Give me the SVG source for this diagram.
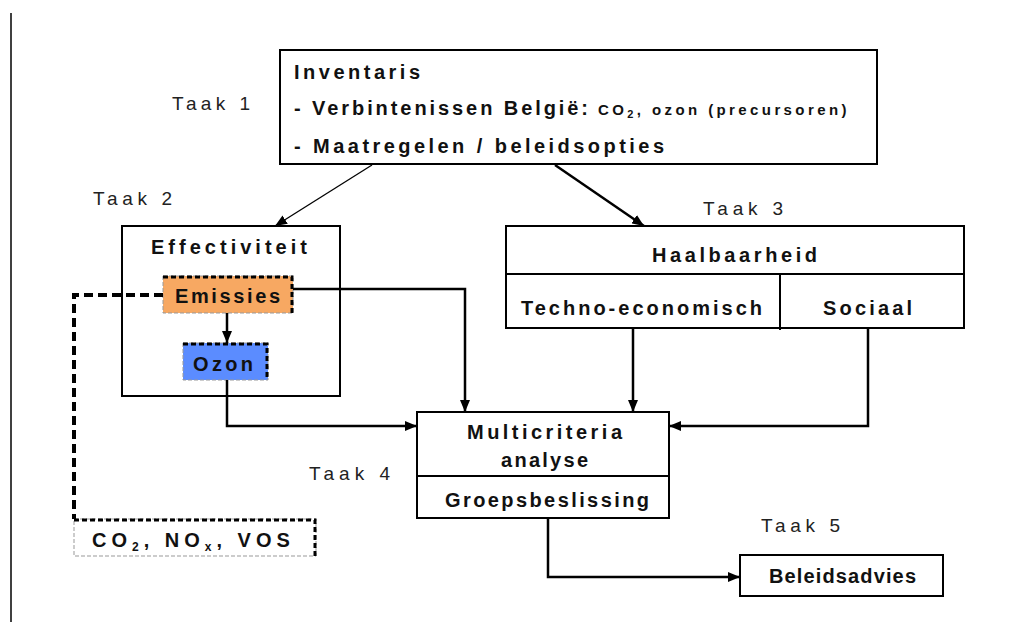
<svg xmlns="http://www.w3.org/2000/svg" width="1036" height="624" viewBox="0 0 1036 624">
<style>
.b{font-family:"Liberation Sans",Arial,sans-serif;font-weight:bold;font-size:20px;fill:#111}
.s{font-family:"Liberation Sans",Arial,sans-serif;font-weight:bold;font-size:15px;fill:#111}
.t{font-family:"Liberation Sans",Arial,sans-serif;font-size:19px;fill:#222}
.box{fill:#fff;stroke:#000;stroke-width:2}
.ln{fill:none;stroke:#000;stroke-width:2.5}
.thin{fill:none;stroke:#000;stroke-width:1.3}
.dsh{fill:none;stroke:#000;stroke-width:4;stroke-dasharray:9 5}
.shade{stroke:#999;stroke-width:1;stroke-dasharray:4 2}
.dot{fill:none;stroke:#000;stroke-width:3;stroke-dasharray:5 3}
</style>
<defs>
<marker id="ah" markerUnits="userSpaceOnUse" markerWidth="12" markerHeight="10" refX="12" refY="5" orient="auto">
<path d="M0,0 L12,5 L0,10 z" fill="#000"/>
</marker>
</defs>
<rect width="1036" height="624" fill="#fff"/>
<line x1="11" y1="13" x2="11" y2="622" stroke="#000" stroke-width="1.5"/>

<g id="labels">
<text class="t" x="172" y="110" textLength="78" lengthAdjust="spacing">Taak 1</text>
<text class="t" x="93" y="205" textLength="79" lengthAdjust="spacing">Taak 2</text>
<text class="t" x="703" y="215" textLength="80" lengthAdjust="spacing">Taak 3</text>
<text class="t" x="309" y="480" textLength="81" lengthAdjust="spacing">Taak 4</text>
<text class="t" x="761" y="532" textLength="79" lengthAdjust="spacing">Taak 5</text>
</g>

<g id="inventaris">
<rect class="box" x="280" y="50" width="597" height="114"/>
<text class="b" x="294" y="79" textLength="126" lengthAdjust="spacing">Inventaris</text>
<text class="b" x="294" y="115" textLength="294" lengthAdjust="spacing">- Verbintenissen België:</text>
<text class="s" x="598" y="115" letter-spacing="3.4">CO<tspan font-size="11" dy="3">2</tspan><tspan dy="-3">, ozon (precursoren)</tspan></text>
<text class="b" x="294" y="153" textLength="370" lengthAdjust="spacing">- Maatregelen / beleidsopties</text>
</g>

<g id="effectiviteit">
<rect class="box" x="122" y="226" width="218" height="170"/>
<text class="b" x="151" y="254" textLength="156" lengthAdjust="spacing">Effectiviteit</text>
</g>

<g id="emissies">
<rect x="163" y="276" width="130" height="37" fill="#F7A862" class="shade"/>
<polyline class="dot" points="163,277 292,277 292,313"/>
<text class="b" x="175" y="303" textLength="105" lengthAdjust="spacing">Emissies</text>
</g>

<g id="ozon">
<rect x="183" y="343" width="85" height="37" fill="#5B8CFF" class="shade"/>
<polyline class="dot" points="183,344 267,344 267,380"/>
<text class="b" x="193" y="371" textLength="60" lengthAdjust="spacing">Ozon</text>
</g>

<g id="haalbaarheid">
<rect class="box" x="506" y="226" width="458" height="102"/>
<line x1="506" y1="274" x2="964" y2="274" stroke="#000" stroke-width="2"/>
<line x1="780" y1="274" x2="780" y2="330" stroke="#000" stroke-width="2"/>
<text class="b" x="652" y="262" textLength="165" lengthAdjust="spacing">Haalbaarheid</text>
<text class="b" x="521" y="315" textLength="241" lengthAdjust="spacing">Techno-economisch</text>
<text class="b" x="823" y="315" textLength="89" lengthAdjust="spacing">Sociaal</text>
</g>

<g id="multicriteria">
<rect class="box" x="417" y="412" width="252" height="106"/>
<line x1="417" y1="476" x2="669" y2="476" stroke="#000" stroke-width="2"/>
<text class="b" x="467" y="439" textLength="155" lengthAdjust="spacing">Multicriteria</text>
<text class="b" x="501" y="467" textLength="87" lengthAdjust="spacing">analyse</text>
<text class="b" x="445" y="507" textLength="204" lengthAdjust="spacing">Groepsbeslissing</text>
</g>

<g id="co2">
<rect x="74" y="519" width="242" height="37" fill="#fff" class="shade"/>
<polyline class="dot" points="74,520 315,520 315,556"/>
<text class="b" x="92" y="547" letter-spacing="5">CO<tspan font-size="12" dy="4">2</tspan><tspan dy="-4">, NO</tspan><tspan font-size="12" dy="4">x</tspan><tspan dy="-4">, VOS</tspan></text>
</g>

<g id="beleidsadvies">
<rect class="box" x="740" y="555" width="203" height="41"/>
<text class="b" x="769" y="583" textLength="147" lengthAdjust="spacing">Beleidsadvies</text>
</g>

<g id="connectors">
<line class="thin" x1="372" y1="165" x2="275" y2="226" marker-end="url(#ah)"/>
<line class="ln" x1="555" y1="165" x2="644" y2="226" marker-end="url(#ah)"/>
<line class="ln" x1="227" y1="313" x2="227" y2="343" marker-end="url(#ah)"/>
<polyline class="ln" points="293,289 465,289 465,412" marker-end="url(#ah)"/>
<polyline class="ln" points="227,380 227,426 417,426" marker-end="url(#ah)"/>
<line class="ln" x1="633" y1="328" x2="633" y2="412" marker-end="url(#ah)"/>
<polyline class="ln" points="868,328 868,426 669,426" marker-end="url(#ah)"/>
<polyline class="ln" points="548,519 548,577 740,577" marker-end="url(#ah)"/>
<polyline class="dsh" points="163,295 74,295 74,519"/>
</g>
</svg>
